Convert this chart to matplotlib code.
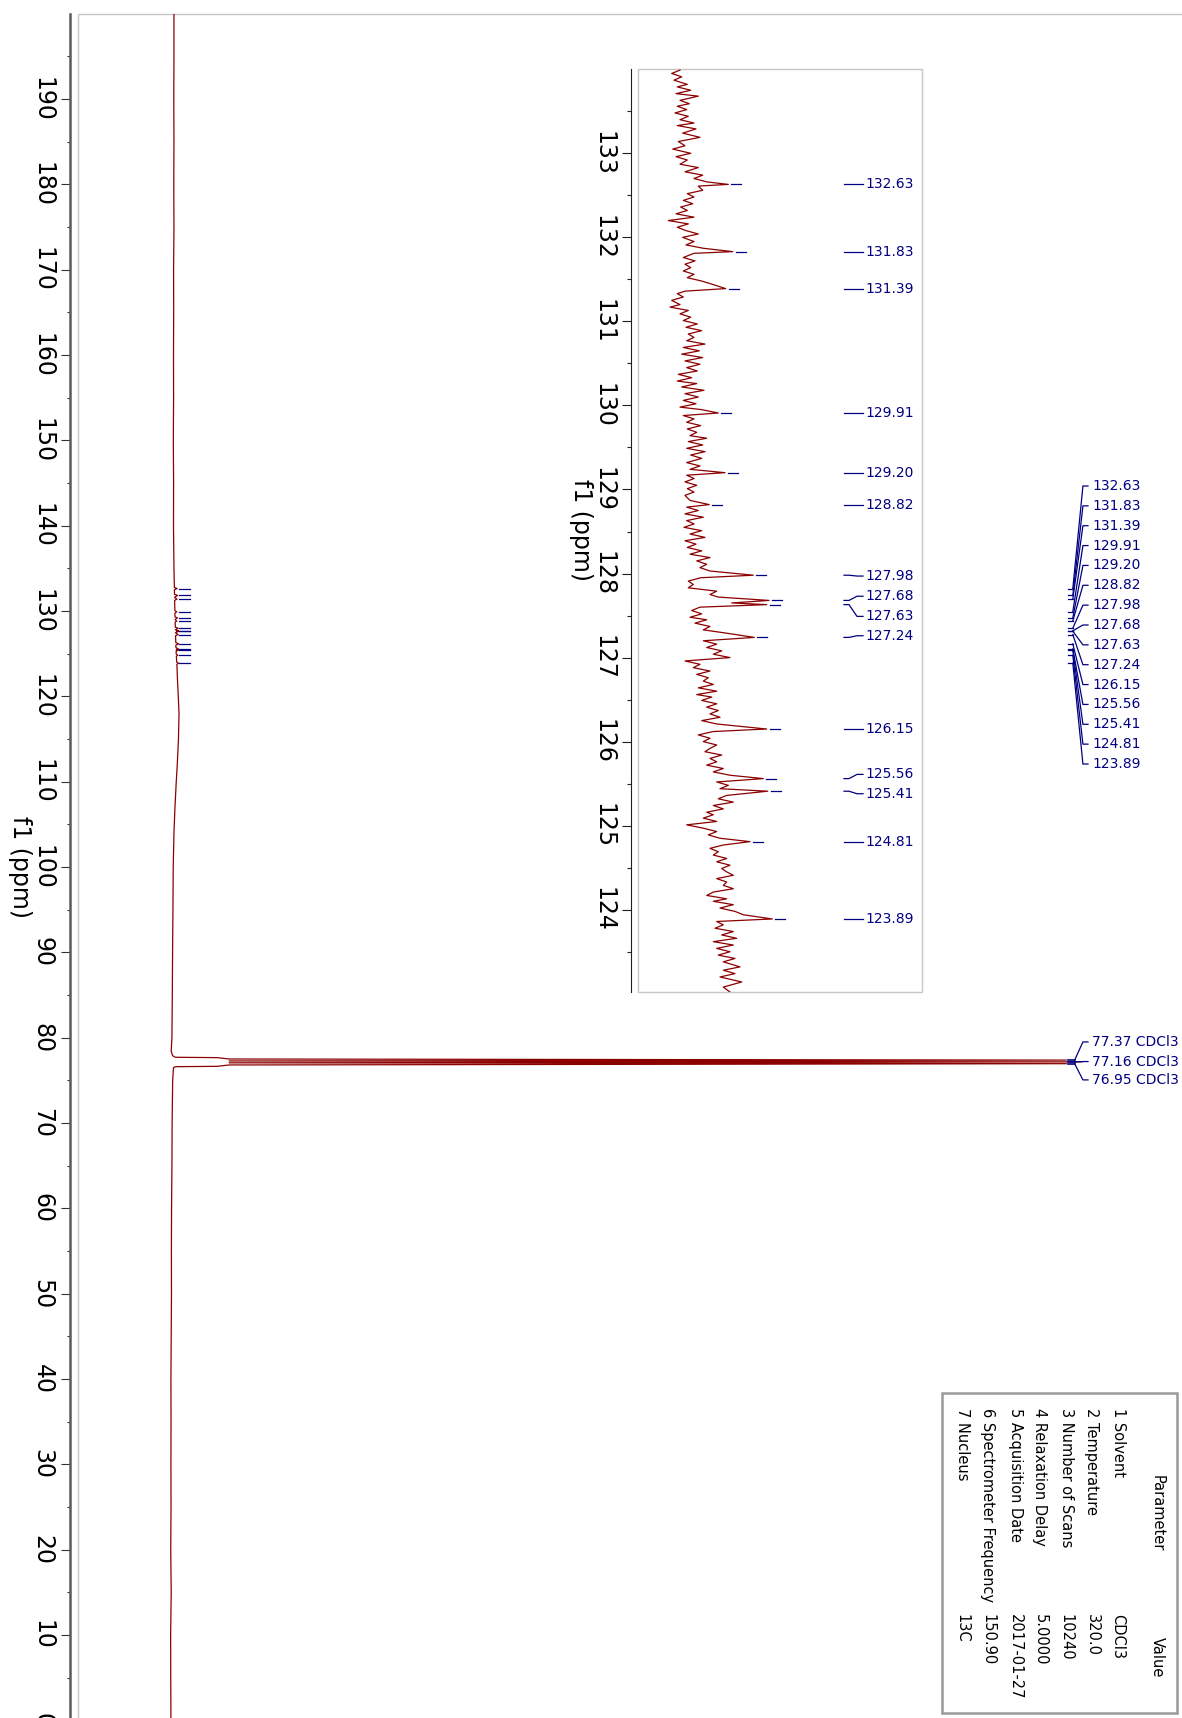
import numpy as np
import matplotlib
matplotlib.use('Agg')
import matplotlib.pyplot as plt
from matplotlib.patches import Rectangle

RED = '#8b0000'
NAVY = '#000080'
TICKFONT = ['Liberation Sans Narrow', 'DejaVu Sans']

# full spectrum: ppm and intensity (% of the CDCl3 line)
main_ppm = [200, 195, 190, 185, 180, 175, 170, 165, 160, 155,
            150, 145, 140, 135, 133.5,
            132.75, 132.63, 132.5, 131.95, 131.83, 131.6, 131.39, 131.25,
            130.05, 129.91, 129.75, 129.3, 129.2, 129.0, 128.82, 128.7,
            128.1, 127.98, 127.8, 127.68, 127.65, 127.63, 127.45, 127.24, 127.1,
            126.3, 126.15, 126.0, 125.7, 125.56, 125.48, 125.41, 125.3,
            124.95, 124.81, 124.7, 124.0, 123.89, 123.75,
            122, 120, 118, 115, 112, 110, 107, 104, 100, 95, 90, 85, 80,
            78.4, 77.9, 77.75, 77.7, 77.66, 77.5, 77.37, 77.27, 77.16, 77.05,
            76.95, 76.8, 76.64, 76.6, 76.5,
            75, 70, 65, 60, 55, 50, 45, 40, 35, 30, 25, 20, 15, 10, 5, 0]
main_int = [0.0, 0.0, -0.02, 0.0, -0.02, 0.0, -0.04, -0.03, -0.05, -0.04,
            -0.07, -0.04, -0.05, 0.0, 0.03,
            0.05, 0.35, 0.05, 0.06, 0.40, 0.06, 0.33, 0.07,
            0.10, 0.30, 0.10, 0.12, 0.38, 0.12, 0.30, 0.13,
            0.15, 0.45, 0.15, 0.50, 0.30, 0.50, 0.16, 0.45, 0.17,
            0.20, 0.50, 0.20, 0.22, 0.48, 0.25, 0.50, 0.23,
            0.25, 0.42, 0.26, 0.30, 0.50, 0.32,
            0.38, 0.47, 0.55, 0.49, 0.36, 0.25, 0.11, 0.0, -0.08, -0.11, -0.15, -0.18, -0.22,
            -0.3, -0.15, 0.05, 0.2, 4.7, 6.0, 97.0, 6.0, 98.7, 6.0,
            97.0, 6.0, 4.7, 0.2, -0.05,
            -0.14, -0.2, -0.22, -0.26, -0.28, -0.27, -0.3, -0.33, -0.32, -0.33,
            -0.32, -0.35, -0.3, -0.36, -0.35, -0.33]

# expanded region 134 - 123 ppm (intensity in arbitrary units)
zoom_ppm_a = [133.99, 133.95, 133.91, 133.87, 133.82, 133.79, 133.75, 133.71, 133.68, 133.63,
              133.59, 133.56, 133.52, 133.48, 133.44, 133.40, 133.36, 133.33, 133.29, 133.24,
              133.19, 133.14, 133.09, 133.05, 133.00, 132.96, 132.92, 132.87, 132.83, 132.78,
              132.74, 132.70, 132.66, 132.63, 132.61, 132.56, 132.52, 132.48, 132.44, 132.40,
              132.36, 132.32, 132.28, 132.24, 132.20, 132.16, 132.12, 132.08, 132.04, 132.00,
              131.95, 131.91, 131.87, 131.83, 131.81, 131.76, 131.72, 131.68, 131.64, 131.60,
              131.56, 131.52, 131.48, 131.45, 131.39, 131.36, 131.33, 131.29, 131.25, 131.20,
              131.17, 131.13, 131.09, 131.05, 131.01, 130.97, 130.93, 130.89, 130.85, 130.81,
              130.77, 130.73, 130.69, 130.65, 130.61, 130.57, 130.53, 130.49, 130.45, 130.41,
              130.37, 130.33, 130.29, 130.26, 130.22, 130.18, 130.14, 130.10, 130.06, 130.02,
              129.98, 129.95, 129.91, 129.88, 129.84, 129.80, 129.76, 129.72, 129.68, 129.64,
              129.61, 129.57, 129.53, 129.49, 129.45, 129.41, 129.37]
zoom_int_a = [10.0, 1.7, 11.7, 4.0, 17.3, 7.3, 20.7, 6.0, 28.3, 10.0,
              19.3, 7.3, 16.7, 5.0, 18.3, 10.0, 24.0, 7.3, 26.0, 12.7,
              30.0, 8.3, 15.0, 2.7, 20.7, 6.0, 17.3, 10.0, 28.3, 15.0,
              32.7, 24.0, 36.7, 58.3, 28.3, 32.7, 17.3, 24.0, 13.3, 22.7,
              10.7, 17.3, 6.0, 24.0, -1.7, 18.3, 7.3, 16.0, 28.3, 12.7,
              24.0, 16.0, 33.3, 62.7, 24.0, 13.3, 25.0, 15.0, 20.7, 13.3,
              24.0, 17.3, 31.7, 40.0, 55.7, 15.0, 7.3, 13.3, 1.7, 10.0,
              0.0, 18.3, 10.0, 20.7, 13.3, 27.3, 16.0, 31.7, 18.3, 24.0,
              16.7, 35.0, 13.3, 29.3, 11.7, 32.7, 15.0, 30.0, 16.7, 27.3,
              8.3, 21.7, 7.3, 26.7, 11.7, 34.0, 15.0, 28.3, 13.3, 26.0,
              10.0, 31.7, 48.3, 13.3, 24.0, 16.7, 30.7, 17.3, 26.7, 20.0,
              36.7, 18.3, 32.7, 16.7, 35.0, 20.7, 31.7]

zoom_ppm_b = [129.32, 129.28, 129.24, 129.20, 129.17, 129.13, 129.09, 129.05, 129.01, 128.97,
              128.93, 128.87, 128.82, 128.79, 128.75, 128.71, 128.67, 128.63, 128.59, 128.55,
              128.51, 128.47, 128.43, 128.39, 128.35, 128.31, 128.27, 128.23, 128.19, 128.15,
              128.11, 128.07, 128.03, 127.98, 127.95, 127.91, 127.87, 127.83, 127.79, 127.75,
              127.72, 127.68, 127.65, 127.63, 127.60, 127.56, 127.52, 127.48, 127.45, 127.41,
              127.37, 127.33, 127.29, 127.24, 127.20, 127.16, 127.12, 127.08, 127.04, 127.00,
              126.96, 126.92, 126.88, 126.84, 126.80, 126.76, 126.72, 126.68, 126.64, 126.60,
              126.56, 126.53, 126.49, 126.45, 126.41, 126.37, 126.33, 126.29, 126.25, 126.21,
              126.15, 126.12, 126.08, 126.04, 126.00, 125.96, 125.92, 125.88, 125.84, 125.80,
              125.76, 125.72, 125.68, 125.64, 125.60, 125.56, 125.52, 125.48, 125.44, 125.41,
              125.36, 125.32, 125.28, 125.24, 125.20, 125.16, 125.13, 125.09, 125.05, 125.01,
              124.97, 124.93, 124.89, 124.85, 124.81]
zoom_int_b = [16.7, 30.0, 20.0, 55.0, 16.7, 24.0, 15.0, 26.7, 17.3, 24.0,
              15.0, 20.0, 39.3, 16.7, 28.3, 15.0, 33.3, 16.7, 24.0, 14.0,
              31.7, 20.0, 35.0, 15.0, 26.0, 17.3, 31.7, 20.0, 40.0, 26.7,
              36.7, 30.0, 40.0, 83.3, 30.7, 18.3, 23.3, 18.3, 46.7, 40.0,
              48.3, 99.0, 61.7, 96.7, 30.0, 21.7, 31.7, 20.0, 36.7, 25.0,
              40.0, 33.3, 56.7, 84.3, 33.3, 46.7, 36.7, 51.7, 43.3, 60.0,
              15.0, 30.0, 23.3, 40.0, 26.7, 38.3, 33.3, 43.3, 28.3, 46.7,
              26.7, 41.7, 31.7, 46.7, 36.7, 48.3, 40.0, 50.0, 31.7, 46.7,
              96.7, 43.3, 28.3, 40.0, 33.3, 46.7, 40.0, 35.0, 51.7, 40.0,
              46.7, 36.7, 53.3, 43.3, 60.0, 93.3, 46.7, 58.3, 50.0, 97.7,
              56.7, 48.3, 63.3, 43.3, 53.3, 36.7, 43.3, 33.3, 46.7, 16.7,
              33.3, 46.7, 38.3, 50.0, 80.0]

zoom_ppm_c = [124.77, 124.73, 124.69, 124.65, 124.61, 124.57, 124.53, 124.49, 124.45, 124.41,
              124.37, 124.33, 124.29, 124.25, 124.21, 124.17, 124.13, 124.10, 124.06, 124.02,
              123.98, 123.94, 123.89, 123.86, 123.82, 123.78, 123.74, 123.70, 123.66, 123.62,
              123.58, 123.54, 123.50, 123.46, 123.42, 123.38, 123.32, 123.28, 123.24, 123.20,
              123.14, 123.08, 123.02]
zoom_int_c = [53.3, 40.0, 48.3, 43.3, 56.7, 46.7, 60.0, 51.7, 56.7, 63.3,
              46.7, 56.7, 53.3, 63.3, 43.3, 36.7, 56.7, 43.3, 63.3, 50.0,
              65.0, 73.3, 102.3, 46.7, 53.3, 45.0, 63.3, 51.7, 66.7, 43.3,
              63.3, 46.7, 60.0, 48.3, 65.0, 53.3, 70.0, 53.3, 65.0, 50.0,
              71.7, 53.3, 60.0]

peaks = [132.63, 131.83, 131.39, 129.91, 129.20, 128.82, 127.98, 127.68,
         127.63, 127.24, 126.15, 125.56, 125.41, 124.81, 123.89]
solvent = [77.37, 77.16, 76.95]

param_names = ['1 Solvent', '2 Temperature', '3 Number of Scans', '4 Relaxation Delay',
               '5 Acquisition Date', '6 Spectrometer Frequency', '7 Nucleus']
param_values = ['CDCl3', '320.0', '10240', '5.0000', '2017-01-27', '150.90', '13C']

zoom_ppm = zoom_ppm_a + zoom_ppm_b + zoom_ppm_c
zoom_int = zoom_int_a + zoom_int_b + zoom_int_c

W, H = 1182, 1718


def fx(px):
    return px / W


def fy(py):
    return 1 - py / H


fig = plt.figure(figsize=(W / 100, H / 100), dpi=100)

# ---- full spectrum (vertical ppm axis, high field at the bottom)
ax = fig.add_axes([fx(78), fy(1720.3), fx(1250) - fx(78), fy(13.7) - fy(1720.3)])
ax.plot(main_int, main_ppm, color=RED, lw=0.9)
ax.set_xlim(-10.43, 116.96)
ax.set_ylim(0, 200)
for s in ['top', 'right', 'bottom']:
    ax.spines[s].set_visible(False)
ax.spines['left'].set_position(('outward', 5.8))
ax.spines['left'].set_color('#5a5a5a')
ax.spines['left'].set_linewidth(1.8)
ax.add_patch(Rectangle((0, 0), 1, 1, transform=ax.transAxes, fill=False,
                       ec='#c6c6c6', lw=1.0, clip_on=False))
ax.set_xticks([])
major = np.arange(0, 191, 10)
ax.set_yticks(major)
ax.set_yticks(np.arange(5, 200, 10), minor=True)
ax.set_yticklabels([str(v) for v in major], rotation=-90, ha='right', va='center',
                   fontsize=17, family=TICKFONT)
ax.tick_params(axis='y', which='major', length=6.5, width=0.8, color='#333333', pad=4.7)
ax.tick_params(axis='y', which='minor', length=2.5, width=0.8, color='#333333')
fig.text(fx(20), fy(867), 'f1 (ppm)', rotation=-90, ha='center', va='center',
         fontsize=17, family=TICKFONT)

# peak markers next to the trace
for p in peaks:
    ax.plot([0.6, 1.75], [p, p], color=NAVY, lw=0.9)

# multiplet labels at the right
lab_y = np.linspace(144.65, 112.07, len(peaks))
for p, ly in zip(peaks, lab_y):
    ax.plot([97.2, 97.7], [p, p], color=NAVY, lw=0.9)
    ax.plot([97.7, 98.8, 99.35], [p, ly, ly], color=NAVY, lw=0.9)
    ax.text(99.8, ly, f'{p:.2f}', color=NAVY, fontsize=10, ha='left', va='center')

sol_y = [79.5, 77.2, 75.05]
for p, ly in zip(solvent, sol_y):
    ax.plot([97.2, 97.9], [p, p], color=NAVY, lw=1.2)
    ax.plot([97.9, 98.8, 99.35], [p, ly, ly], color=NAVY, lw=0.9)
    ax.text(99.8, ly, f'{p:.2f} CDCl3', color=NAVY, fontsize=10, ha='left', va='center')

# ---- expanded inset
ax2 = fig.add_axes([fx(638), fy(992), fx(922) - fx(638), fy(69) - fy(992)])
ax2.set_zorder(5)
ax2.plot(zoom_int, zoom_ppm, color=RED, lw=0.9)
ax2.set_xlim(-32, 252)
ax2.set_ylim(123.021, 134.003)
for s in ['top', 'right', 'bottom']:
    ax2.spines[s].set_visible(False)
ax2.spines['left'].set_position(('outward', 5.0))
ax2.spines['left'].set_color('#202020')
ax2.spines['left'].set_linewidth(0.8)
ax2.add_patch(Rectangle((0, 0), 1, 1, transform=ax2.transAxes, fill=False,
                        ec='#c6c6c6', lw=1.0, clip_on=False))
ax2.set_xticks([])
zmajor = np.arange(124, 134)
ax2.set_yticks(zmajor)
ax2.set_yticks(np.arange(123.5, 134, 1.0), minor=True)
ax2.set_yticklabels([str(v) for v in zmajor], rotation=-90, ha='right', va='center',
                    fontsize=17, family=TICKFONT)
ax2.tick_params(axis='y', which='major', length=6.5, width=0.8, color='#202020', pad=4.9)
ax2.tick_params(axis='y', which='minor', length=2.8, width=0.8, color='#202020')
fig.text(fx(581), fy(530), 'f1 (ppm)', rotation=-90, ha='center', va='center',
         fontsize=17, family=TICKFONT, zorder=6)

zlab_y = [132.63, 131.83, 131.39, 129.91, 129.20, 128.82, 127.97, 127.73,
          127.49, 127.26, 126.15, 125.61, 125.38, 124.81, 123.89]
for p, ly in zip(peaks, zlab_y):
    tip = zoom_int[zoom_ppm.index(p)]
    ax2.plot([tip + 3, tip + 13], [p, p], color=NAVY, lw=0.9)
    ax2.plot([174, 179, 187, 193], [p, p, ly, ly], color=NAVY, lw=0.9)
    ax2.text(195, ly, f'{p:.2f}', color=NAVY, fontsize=10, ha='left', va='center')

# ---- parameter table
fig.add_artist(Rectangle((fx(942), fy(1713)), (1177 - 942) / W, (1713 - 1393) / H,
                         transform=fig.transFigure, fill=False, ec='#9a9a9a', lw=1.8))
fig.text(fx(1157), fy(1513), 'Parameter', rotation=-90, ha='center', va='center', fontsize=10.5)
fig.text(fx(1157), fy(1657), 'Value', rotation=-90, ha='center', va='center', fontsize=10.5)
row_x = [1118, 1092, 1066, 1040, 1015, 988, 962]
for rx, name, val in zip(row_x, param_names, param_values):
    fig.text(fx(rx), fy(1408), name, rotation=-90, ha='center', va='top', fontsize=10.5)
    fig.text(fx(rx), fy(1614), val, rotation=-90, ha='center', va='top', fontsize=10.5)

fig.savefig('out.png', dpi=100)
